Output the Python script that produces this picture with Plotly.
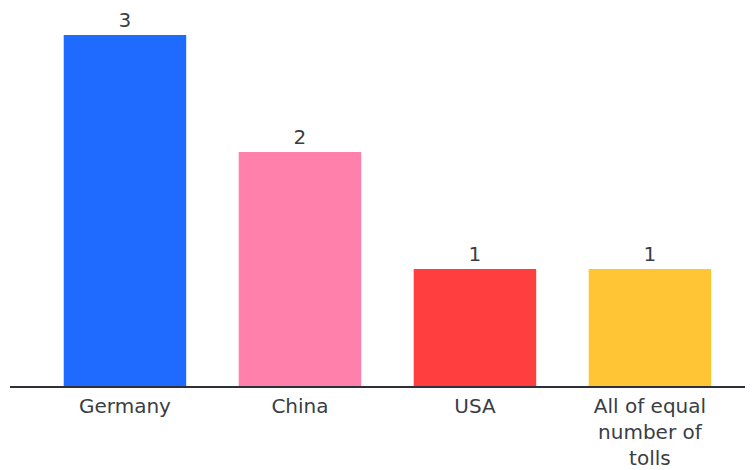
import plotly.graph_objects as go

categories = ["Germany", "China", "USA", "All of equal number of tolls"]
tick_labels = ["Germany", "China", "USA", "All of equal<br>number of<br>tolls"]
values = [3, 2, 1, 1]
colors = ["#1f6bff", "#ff80aa", "#ff3f3f", "#ffc535"]

fig = go.Figure(go.Bar(
    x=categories,
    y=values,
    marker=dict(color=colors, line=dict(width=0)),
    text=[str(v) for v in values],
    textposition="outside",
    textfont=dict(size=20, color="#3a3d45"),
    cliponaxis=False,
    width=0.7,
))

fig.update_layout(
    width=753, height=470,
    margin=dict(l=2, r=8, t=20, b=92, autoexpand=False),
    paper_bgcolor="white", plot_bgcolor="white",
    font=dict(family="DejaVu Sans, sans-serif", size=20, color="#3a3d45"),
    showlegend=False,
    xaxis=dict(
        range=[-0.657, 3.589],
        tickvals=categories, ticktext=tick_labels,
        showline=True, linecolor="#2d3039", linewidth=2,
        showgrid=False, ticks="", tickfont=dict(size=20, color="#3a3d45"),
        ticklabelstandoff=1,
        automargin=False,
    ),
    yaxis=dict(range=[0, 3.060], visible=False, showgrid=False, zeroline=False),
)

fig.write_html("out.html")
